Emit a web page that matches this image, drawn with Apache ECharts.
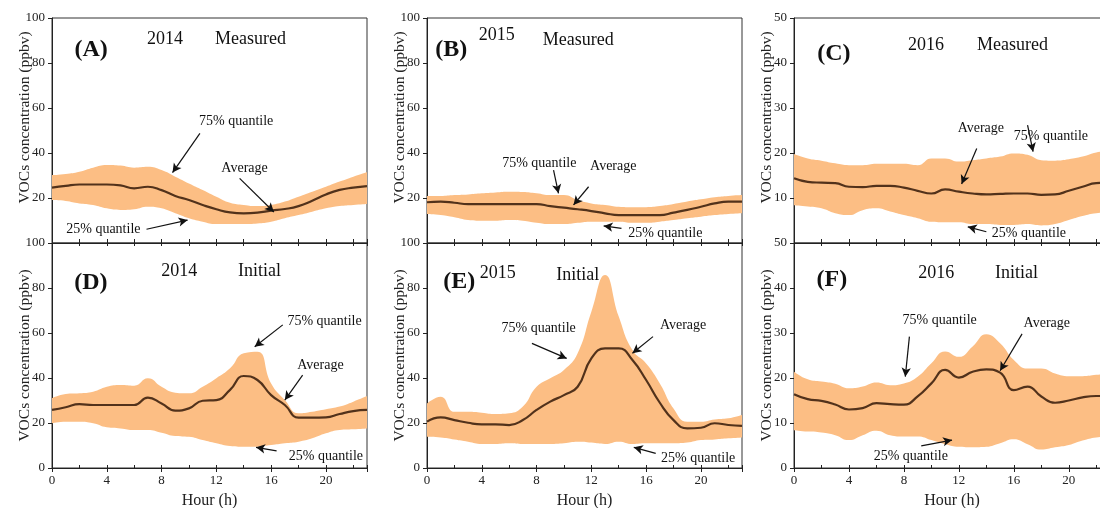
<!DOCTYPE html>
<html>
<head>
<meta charset="utf-8">
<script src="https://cdn.jsdelivr.net/npm/echarts@6/dist/echarts.min.js"></script>
<style>
  html, body { margin: 0; padding: 0; background: #fff; }
  #chart { width: 1100px; height: 508px; }
</style>
</head>
<body>
<div id="chart"></div>
<script>
// Hour of day
const hours = [0,1,2,3,4,5,6,7,8,9,10,11,12,13,14,15,16,17,18,19,20,21,22,23];

// (A) 2014 measured
const avgA = [24.6,25.4,26,26,26,25.6,24.3,25,23.5,20.9,19.1,16.9,15,13.6,13.2,13.5,14.4,15.1,16.4,18.8,21.6,23.6,24.6,25.3];
const q75A = [30.2,30.7,31.7,33.5,34.7,34.4,33.5,33.9,32.4,29.5,26.5,23.6,20.6,17.9,16.9,16.4,16.9,18.4,20.6,22.8,25,27.3,29.5,31.4];
const q25A = [19.1,18.7,17.6,16.9,15.4,14.7,15,16.1,15.4,13.2,11,9.5,8.4,8.4,8.4,8.7,9.5,11,12.4,13.9,15.4,16.4,16.9,17.3];

// (B) 2015 measured
const avgB = [18.1,18.4,17.9,17.3,17.3,17.3,17.3,17.3,17.3,16.4,15.7,15,14.2,13.2,12.4,12.4,12.4,12.4,13.5,14.7,16.1,17.6,18.4,18.4];
const q75B = [20.9,20.9,21.3,21.6,22.1,22.5,22.8,22.7,22.1,21.3,21.3,19.1,17.6,16.9,16.1,15.9,15.9,16.4,17.3,18.4,19.4,20.3,20.9,21.3];
const q25B = [12.9,12.4,11.4,10.2,9.9,9.9,10.2,9.9,9,8.4,8.4,9,9.5,9.5,9.5,9,9,9.5,10.2,11,11.7,12.4,12.9,13.2];

// (C) 2016 measured
const avgC = [14.4,13.6,13.4,13.3,12.5,12.4,12.7,12.7,12.3,11.6,11,11.9,11.4,11,10.8,10.9,11,11,10.7,10.8,11.6,12.5,13.3,13.4];
const q75C = [19.8,18.8,18.3,17.7,17.3,17.3,17.6,17.6,17.6,17.3,18.8,18.8,18.1,18.4,18.8,19.2,19.9,19.6,18.4,18.3,18.6,19.2,20.1,20.5];
const q25C = [8.4,8.1,7.7,6.6,6.2,7.3,7.7,7,6.2,5.5,4.7,4.6,4.6,4.2,4.2,4,4,4.2,3.9,4.2,5.1,6,6.6,6.9];

// (D) 2014 initial
const avgD = [25.8,27,28.4,28,28,28,28,31.3,28.7,25.5,26.5,29.9,30.2,34.7,40.9,39.1,32.4,28,22.4,22.4,22.5,24,25.3,25.8];
const q75D = [31,32.9,33.2,33.9,36.1,36.9,36.6,39.9,36.1,33.5,33.2,36.1,39.9,44.3,51,51.7,37.6,30.2,24.3,25,26.1,27.3,29.5,32];
const q25D = [19.9,20.6,20.6,19.9,18.1,17.6,16.9,16.9,15.7,14.2,13.9,12.4,11,9.8,9.5,9.5,10.2,11,11.7,13.2,15.4,16.9,17.2,17.6];

// (E) 2015 initial
const avgE = [20.6,22.5,21.3,20.1,19.4,19.4,19.1,21.3,25.8,29.5,32.4,36.1,48.7,53.2,53.2,48,39.1,29,21.3,17.6,17.9,19.9,19.1,18.7];
const q75E = [28.7,31.7,25,25,24.6,24,24.3,27.3,36.1,39.9,43.6,51,69.5,85.8,67.3,52.4,46.5,37.6,26.5,20.6,20.6,21.6,22.1,23.6];
const q25E = [13.9,13.6,12.7,11.7,10.7,10.7,11,10.7,10.7,10.7,11,11.7,11.3,10.7,11.7,10.7,11,11,11,11.3,12.4,12.7,13.2,13.6];

// (F) 2016 initial
const avgF = [16.4,15.3,14.9,14.1,13,13.3,14.4,14.2,14.1,15.9,18.8,21.8,20.1,21.4,21.9,21.2,17.3,18.1,15.9,14.5,15,15.7,16,16];
const q75F = [21.4,19.7,19.2,18.7,17.7,18.1,19,18.4,18.8,20.3,23.3,25.9,24.7,27,29.7,27.7,24,22.1,22.1,21,20.4,20.4,20.7,21];
const q25F = [8.4,8.1,7.9,7.3,6.2,7.3,8.3,7.3,7,7,6.2,5.3,4.7,4.6,4.7,5.5,6.4,5.3,4.1,4.6,5.1,6.1,6.8,7];

const yTitle = 'VOCs concentration (ppbv)';
const xTitle = 'Hour (h)';

const BAND = '#FCBE84';
const LINE = '#52321B';
const FONT = 'Liberation Serif, Times New Roman, serif';

// Panel layout and annotation anchors (data coordinates)
const panels = [
  { tag: '(A)', year: '2014', kind: 'Measured', avg: avgA, q75: q75A, q25: q25A, ymax: 100, yint: 20, row: 0, col: 0,
    tagAt: [2.86, 85.8], yearAt: [8.25, 90.5], kindAt: [14.5, 90.5],
    t75: [13.45, 53.9], a75: [[10.8, 48.7], [8.8, 31.3]],
    tAvg: [14.06, 33.2], aAvg: [[13.7, 28.7], [16.2, 13.8]],
    t25: [3.75, 6.1], a25: [[6.9, 6.1], [9.9, 10.2]] },
  { tag: '(B)', year: '2015', kind: 'Measured', avg: avgB, q75: q75B, q25: q25B, ymax: 100, yint: 20, row: 0, col: 1,
    tagAt: [1.77, 85.8], yearAt: [5.1, 92.4], kindAt: [11.05, 90.2],
    t75: [8.2, 35.4], a75: [[9.24, 32.4], [9.6, 22.1]],
    tAvg: [13.6, 33.9], aAvg: [[11.8, 25], [10.7, 16.9]],
    t25: [17.4, 4.3], a25: [[14.2, 6.5], [12.9, 7.6]] },
  { tag: '(C)', year: '2016', kind: 'Measured', avg: avgC, q75: q75C, q25: q25C, ymax: 50, yint: 10, row: 0, col: 2,
    tagAt: [2.9, 42.1], yearAt: [9.6, 44], kindAt: [15.9, 44],
    t75: [18.7, 23.6], a75: [[17.0, 26.2], [17.4, 20.3]],
    tAvg: [13.6, 25.5], aAvg: [[13.3, 21], [12.2, 13.1]],
    t25: [17.1, 2.1], a25: [[14.0, 2.5], [12.65, 3.6]] },
  { tag: '(D)', year: '2014', kind: 'Initial', avg: avgD, q75: q75D, q25: q25D, ymax: 100, yint: 20, row: 1, col: 0,
    tagAt: [2.84, 82.1], yearAt: [9.3, 87.3], kindAt: [15.15, 87.3],
    t75: [19.9, 65], a75: [[16.85, 63.6], [14.8, 53.9]],
    tAvg: [19.6, 45.8], aAvg: [[18.3, 41.3], [17.0, 30.2]],
    t25: [20.0, 5], a25: [[16.4, 7.6], [14.9, 9.2]] },
  { tag: '(E)', year: '2015', kind: 'Initial', avg: avgE, q75: q75E, q25: q25E, ymax: 100, yint: 20, row: 1, col: 1,
    tagAt: [2.36, 82.8], yearAt: [5.16, 86.5], kindAt: [11.0, 85.8],
    t75: [8.15, 62.1], a75: [[7.66, 55.4], [10.2, 48.7]],
    tAvg: [18.7, 63.6], aAvg: [[16.5, 58.4], [15.0, 51]],
    t25: [19.8, 4.3], a25: [[16.7, 6.5], [15.1, 9.2]] },
  { tag: '(F)', year: '2016', kind: 'Initial', avg: avgF, q75: q75F, q25: q25F, ymax: 50, yint: 10, row: 1, col: 2,
    tagAt: [2.76, 41.8], yearAt: [10.35, 43.3], kindAt: [16.2, 43.3],
    t75: [10.6, 32.9], a75: [[8.4, 29.2], [8.1, 20.3]],
    tAvg: [18.4, 32.1], aAvg: [[16.6, 29.8], [15.0, 21.6]],
    t25: [8.5, 2.5], a25: [[9.26, 4.9], [11.5, 6.2]] }
];

const colLeft = [52, 427, 794];
const colWidth = [315, 315, 316];
const rowTop = [18, 243];
const rowHeight = 225;

const grids = [], xAxes = [], yAxes = [], series = [];
const pair = arr => hours.map((h, i) => [h, arr[i]]);

panels.forEach((p, gi) => {
  grids.push({
    left: colLeft[p.col], top: rowTop[p.row], width: colWidth[p.col], height: rowHeight,
    outerBoundsMode: 'none', containLabel: false,
    show: true, borderColor: '#333', borderWidth: 1, backgroundColor: 'transparent'
  });
  const bottomRow = p.row === 1;
  const xBase = {
    gridIndex: gi, type: 'value', min: 0, max: 23, interval: 2,
    splitLine: { show: false }
  };
  // main bottom axis (hours)
  const xi = xAxes.length;
  xAxes.push(Object.assign({}, xBase, {
    position: 'bottom',
    interval: bottomRow ? 4 : 2,
    axisLine: { show: true, lineStyle: { color: '#222', width: 1 } },
    axisTick: { show: true, inside: !bottomRow, length: 4, lineStyle: { color: '#222' } },
    axisLabel: {
      show: bottomRow, color: '#222', fontFamily: FONT, fontSize: 13, margin: 6,
      formatter: v => (v % 4 === 0 && v <= 20 ? String(v) : '')
    },
    name: bottomRow ? xTitle : '', nameLocation: 'middle', nameGap: 25, nameMoveOverlap: false,
    nameTextStyle: { color: '#222', fontFamily: FONT, fontSize: 16 }
  }));
  // hidden category axis carrying the stacked quantile band
  const ci = xAxes.length;
  xAxes.push({
    gridIndex: gi, type: 'category', data: hours.map(String), boundaryGap: false, show: false
  });
  if (bottomRow) {
    // inward ticks along the bottom edge
    xAxes.push(Object.assign({}, xBase, {
      position: 'bottom', axisLine: { show: false }, axisLabel: { show: false },
      axisTick: { show: true, inside: true, length: 3, lineStyle: { color: '#222' } }
    }));
    // inward ticks along the top edge
    xAxes.push(Object.assign({}, xBase, {
      position: 'top', axisLine: { show: false }, axisLabel: { show: false },
      axisTick: { show: true, inside: true, length: 3, lineStyle: { color: '#222' } }
    }));
  }
  yAxes.push({
    gridIndex: gi, type: 'value', min: 0, max: p.ymax, interval: p.yint,
    splitLine: { show: false },
    axisLine: { show: true, lineStyle: { color: '#222', width: 1 } },
    axisTick: { show: true, inside: false, length: 4, lineStyle: { color: '#222' } },
    axisLabel: { color: '#222', fontFamily: FONT, fontSize: 13, margin: 7, showMinLabel: bottomRow },
    name: yTitle, nameLocation: 'middle', nameGap: 19, nameMoveOverlap: false,
    nameTextStyle: { color: '#222', fontFamily: FONT, fontSize: 15.5, padding: bottomRow ? 0 : [0, 0, 0, 26] }
  });

  const stackId = 'band' + gi;
  series.push({
    type: 'line', xAxisIndex: ci, yAxisIndex: gi, data: p.q25,
    stack: stackId, smooth: 0.5, symbol: 'none', silent: true,
    lineStyle: { opacity: 0 }, animation: false, z: 1
  });
  series.push({
    type: 'line', xAxisIndex: ci, yAxisIndex: gi,
    data: hours.map((h, i) => +(p.q75[i] - p.q25[i]).toFixed(2)),
    stack: stackId, smooth: 0.5, symbol: 'none', silent: true,
    lineStyle: { opacity: 0 }, areaStyle: { color: BAND, opacity: 1 }, animation: false, z: 1
  });

  const txt = (at, text, extra) => ({
    coord: at, value: text,
    label: Object.assign({ show: true, formatter: text, position: 'inside', color: '#111', fontFamily: FONT, fontSize: 14 }, extra || {})
  });
  const arrow = seg => [{ coord: seg[0] }, { coord: seg[1] }];

  series.push({
    type: 'line', xAxisIndex: xi, yAxisIndex: gi, data: pair(p.avg),
    smooth: 0.5, symbol: 'none', silent: true, animation: false, z: 3,
    lineStyle: { color: LINE, width: 2.2 },
    markLine: {
      silent: true, animation: false, symbol: ['none', 'arrow'], symbolSize: [7, 9],
      lineStyle: { color: '#111', width: 1.2, type: 'solid' },
      label: { show: false },
      data: [arrow(p.a75), arrow(p.aAvg), arrow(p.a25)]
    },
    markPoint: {
      silent: true, animation: false, symbol: 'circle', symbolSize: 1,
      itemStyle: { color: 'transparent' },
      data: [
        txt(p.tagAt, p.tag, { fontSize: 24, fontWeight: 'bold' }),
        txt(p.yearAt, p.year, { fontSize: 18 }),
        txt(p.kindAt, p.kind, { fontSize: 18 }),
        txt(p.t75, '75% quantile'),
        txt(p.tAvg, 'Average'),
        txt(p.t25, '25% quantile')
      ]
    }
  });
});

const chart = echarts.init(document.getElementById('chart'), null, { renderer: 'canvas' });
chart.setOption({
  animation: false,
  backgroundColor: '#fff',
  textStyle: { fontFamily: FONT },
  grid: grids,
  xAxis: xAxes,
  yAxis: yAxes,
  series: series
});
</script>
</body>
</html>
